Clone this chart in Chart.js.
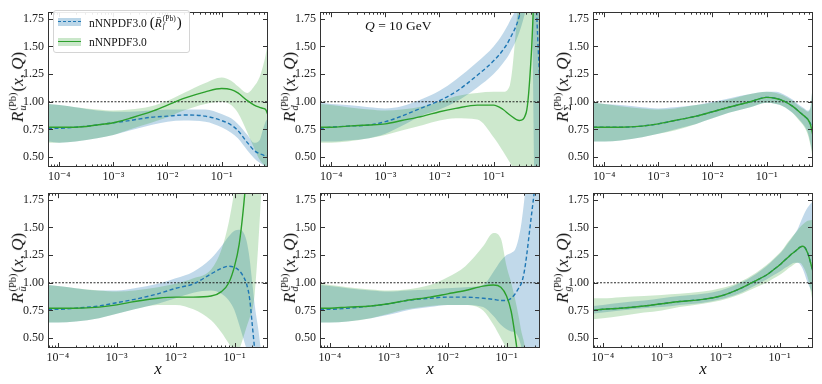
<!DOCTYPE html>
<html>
<head>
<meta charset="utf-8">
<script src="https://cdn.jsdelivr.net/npm/chart.js@4.4.1/dist/chart.umd.min.js"></script>
<style>
  body { margin: 0; background: #fff; width: 822px; height: 384px; overflow: hidden; position: relative;
         font-family: 'Liberation Serif', 'DejaVu Serif', serif; color: #111; }
  canvas { position: absolute; }
  .ylab { position: absolute; transform: translate(-50%, -50%) rotate(-90deg); font-size: 17px; white-space: nowrap; }
  .ss { display: inline-block; vertical-align: -0.3em; font-size: 10.5px; line-height: 10px; margin: 0 1px 0 1px; text-align: left; }
  .ss > span { display: block; }
  .xlab { position: absolute; font-size: 17px; font-style: italic; transform: translateX(-50%); }
  #qlab { position: absolute; left: 365px; top: 18px; font-size: 13.5px; }
  #legend { position: absolute; left: 53px; top: 10px; width: 135px; height: 41px; border: 1px solid #d4d4d4;
            border-radius: 3px; background: rgba(255,255,255,0.9); font-size: 11.5px; }
  #legend .ss { font-size: 7.5px; line-height: 7px; vertical-align: -0.25em; }
  .row { position: absolute; left: 4px; height: 20px; display: flex; align-items: center; white-space: nowrap; }
  .hb { position: relative; display: inline-block; width: 23px; height: 8px; margin-right: 8px; }
  .hb .ln { position: absolute; left: 0; right: 0; top: 3px; }
</style>
</head>
<body>
<div id="legend">
  <div class="row" style="top:1px">
    <span class="hb" style="background:rgba(31,119,180,0.3)"><span class="ln" style="border-top:1.6px dashed #1f77b4"></span></span>
    <span>nNNPDF3.0 <span style="font-size:15px">(</span><i>R̄</i><span class="ss"><span>(Pb)</span><span><i>f</i></span></span><span style="font-size:15px">)</span></span>
  </div>
  <div class="row" style="top:21px">
    <span class="hb" style="background:rgba(44,160,44,0.25)"><span class="ln" style="border-top:1.6px solid #2ca02c"></span></span>
    <span>nNNPDF3.0</span>
  </div>
</div>
<div id="qlab"><i>Q</i> = 10 GeV</div>

<script>
// x grids (top row goes to larger x than bottom row)
const xTop = [6.2e-5, 1e-4, 2e-4, 5e-4, 1e-3, 2e-3, 5e-3, 1e-2, 2e-2, 5e-2, 0.1, 0.15, 0.2, 0.3, 0.4, 0.5, 0.58, 0.65, 0.72];
const xBottom = [6.8e-5, 1e-4, 2e-4, 5e-4, 1e-3, 2e-3, 5e-3, 1e-2, 2e-2, 4e-2, 6e-2, 8e-2, 0.1, 0.12, 0.14, 0.16, 0.18, 0.2, 0.22, 0.25, 0.3, 0.37];
const yTicks = [0.5, 0.75, 1.0, 1.25, 1.5, 1.75];
const xDecades = [1e-4, 1e-3, 1e-2, 1e-1];
const unity = 1;

// R_u
const uBlueMid  = [0.76,0.76,0.77,0.79,0.81,0.83,0.86,0.87,0.88,0.87,0.83,0.79,0.74,0.63,0.56,0.53,0.52,0.51,0.51];
const uBlueHi   = [0.98,0.97,0.95,0.92,0.91,0.91,0.92,0.93,0.93,0.93,0.89,0.85,0.80,0.70,0.63,0.65,0.75,0.82,0.85];
const uBlueLo   = [0.64,0.63,0.64,0.67,0.70,0.74,0.79,0.82,0.83,0.82,0.77,0.72,0.67,0.56,0.49,0.45,0.43,0.42,0.42];
const uGreenMid = [0.77,0.77,0.77,0.79,0.81,0.85,0.91,0.97,1.03,1.09,1.12,1.11,1.08,1.01,0.97,0.95,0.94,0.93,0.88];
const uGreenHi  = [0.98,0.97,0.95,0.93,0.92,0.93,0.96,1.01,1.08,1.17,1.22,1.19,1.14,1.08,1.14,1.22,1.32,1.42,1.55];
const uGreenLo  = [0.63,0.63,0.64,0.67,0.70,0.75,0.81,0.86,0.92,0.98,1.00,0.97,0.90,0.72,0.58,0.48,0.44,0.42,0.42];

// R_d
const dBlueMid  = [0.76,0.77,0.78,0.79,0.82,0.87,0.95,1.01,1.09,1.24,1.37,1.47,1.57,1.78,2.10,2.60,2.20,1.60,1.15];
const dBlueHi   = [0.99,0.98,0.97,0.95,0.94,0.96,1.03,1.10,1.20,1.36,1.50,1.62,1.73,1.95,2.40,3.00,3.00,3.00,3.00];
const dBlueLo   = [0.64,0.64,0.65,0.67,0.71,0.78,0.88,0.93,1.00,1.13,1.25,1.35,1.44,1.63,1.85,2.10,0.10,0.10,0.10];
const dGreenMid = [0.77,0.77,0.78,0.79,0.80,0.83,0.87,0.91,0.94,0.97,0.97,0.93,0.88,0.83,0.90,1.45,2.20,2.80,3.20];
const dGreenHi  = [0.98,0.97,0.95,0.93,0.92,0.93,0.96,1.00,1.05,1.08,1.09,1.09,1.15,2.00,2.50,3.00,3.00,3.00,3.00];
const dGreenLo  = [0.63,0.63,0.64,0.67,0.70,0.74,0.79,0.83,0.85,0.84,0.68,0.55,0.45,0.30,0.10,0.10,0.10,0.10,0.10];

// R_Sigma
const sBlueMid  = [0.77,0.77,0.77,0.78,0.80,0.83,0.87,0.91,0.95,1.00,1.04,1.03,1.01,0.96,0.91,0.87,0.84,0.80,0.76];
const sBlueHi   = [0.99,0.98,0.97,0.95,0.94,0.95,0.97,1.00,1.03,1.07,1.09,1.09,1.07,1.02,0.97,0.94,0.92,0.96,1.18];
const sBlueLo   = [0.64,0.64,0.65,0.68,0.71,0.75,0.80,0.85,0.90,0.95,0.99,0.98,0.96,0.90,0.84,0.78,0.72,0.62,0.50];
const sGreenMid = [0.77,0.77,0.77,0.78,0.80,0.83,0.87,0.91,0.95,1.00,1.04,1.03,1.01,0.96,0.91,0.87,0.84,0.79,0.69];
const sGreenHi  = [0.99,0.98,0.96,0.94,0.93,0.94,0.97,0.99,1.02,1.07,1.09,1.08,1.06,1.01,0.96,0.93,0.91,0.95,1.20];
const sGreenLo  = [0.64,0.64,0.65,0.68,0.71,0.74,0.80,0.85,0.90,0.95,0.99,0.98,0.96,0.90,0.83,0.77,0.70,0.60,0.47];

// R_ubar
const ubBlueMid  = [0.76,0.76,0.77,0.79,0.82,0.85,0.90,0.95,0.99,1.08,1.13,1.15,1.14,1.11,1.06,0.99,0.86,0.62,0.40,0.20,0.10,0.10];
const ubBlueHi   = [0.98,0.97,0.95,0.93,0.93,0.95,0.99,1.04,1.10,1.22,1.33,1.42,1.47,1.48,1.46,1.38,1.22,1.00,0.80,0.60,0.30,0.20];
const ubBlueLo   = [0.64,0.64,0.65,0.68,0.72,0.76,0.81,0.86,0.91,0.93,0.90,0.84,0.75,0.62,0.50,0.40,0.30,0.20,0.10,0.10,0.10,0.10];
const ubGreenMid = [0.77,0.77,0.77,0.78,0.80,0.83,0.86,0.87,0.87,0.88,0.92,1.00,1.15,1.35,1.65,2.00,2.40,2.80,3.00,3.00,3.00,3.00];
const ubGreenHi  = [0.98,0.97,0.95,0.93,0.92,0.93,0.96,0.99,1.04,1.12,1.30,1.55,1.85,2.20,2.60,3.00,3.00,3.00,3.00,3.00,3.00,3.00];
const ubGreenLo  = [0.64,0.64,0.65,0.68,0.72,0.76,0.80,0.80,0.76,0.66,0.55,0.45,0.38,0.40,0.50,0.60,0.68,0.75,0.90,1.30,2.00,2.50];

// R_dbar
const dbBlueMid  = [0.76,0.76,0.77,0.79,0.81,0.84,0.86,0.87,0.87,0.86,0.85,0.84,0.84,0.86,0.90,0.95,1.00,1.10,1.25,1.50,1.85,2.30];
const dbBlueHi   = [0.98,0.97,0.95,0.93,0.92,0.93,0.94,0.95,0.96,0.98,1.10,1.20,1.25,1.27,1.30,1.40,1.55,1.75,2.00,2.50,3.00,3.00];
const dbBlueLo   = [0.64,0.64,0.65,0.68,0.71,0.75,0.78,0.80,0.80,0.78,0.70,0.62,0.58,0.56,0.55,0.50,0.40,0.20,0.10,0.10,0.10,0.10];
const dbGreenMid = [0.77,0.77,0.78,0.79,0.81,0.84,0.87,0.90,0.93,0.97,0.98,0.96,0.88,0.74,0.52,0.30,0.15,0.10,0.10,0.10,0.10,0.10];
const dbGreenHi  = [0.99,0.98,0.96,0.94,0.93,0.94,0.98,1.05,1.15,1.33,1.45,1.40,1.15,1.00,0.85,0.70,0.55,0.45,0.30,0.10,0.10,0.10];
const dbGreenLo  = [0.64,0.64,0.65,0.68,0.72,0.76,0.79,0.80,0.80,0.75,0.62,0.50,0.40,0.30,0.20,0.10,0.10,0.10,0.10,0.10,0.10,0.10];

// R_g
const gBlueMid  = [0.75,0.76,0.77,0.79,0.81,0.83,0.85,0.88,0.94,1.02,1.07,1.12,1.16,1.20,1.23,1.26,1.28,1.30,1.32,1.33,1.27,1.10];
const gBlueHi   = [0.79,0.80,0.82,0.84,0.86,0.88,0.90,0.93,0.99,1.08,1.15,1.21,1.26,1.31,1.36,1.40,1.44,1.48,1.53,1.60,1.68,1.74];
const gBlueLo   = [0.72,0.73,0.75,0.77,0.78,0.80,0.82,0.85,0.90,0.98,1.03,1.07,1.10,1.13,1.15,1.17,1.18,1.18,1.17,1.12,1.00,0.90];
const gGreenMid = [0.75,0.76,0.77,0.79,0.81,0.83,0.85,0.88,0.94,1.02,1.07,1.12,1.16,1.20,1.23,1.26,1.28,1.30,1.32,1.33,1.27,1.10];
const gGreenHi  = [0.86,0.86,0.87,0.88,0.89,0.90,0.92,0.95,1.00,1.09,1.16,1.22,1.27,1.32,1.37,1.41,1.44,1.47,1.50,1.53,1.56,1.57];
const gGreenLo  = [0.67,0.68,0.70,0.73,0.75,0.78,0.81,0.84,0.89,0.96,1.00,1.04,1.07,1.10,1.13,1.15,1.17,1.18,1.18,1.15,1.05,0.82];

const BLUE = '#1f77b4', GREEN = '#2ca02c';
const FONT = "'Liberation Serif', 'DejaVu Serif', serif";
const PW = 220, PH = 160, AXW = 40, AXH = 22, PADT = 6, PADR = 6;

const panels = [
  { xs: xTop, xmin: 6.2e-5, xmax: 0.72, left: 48, top: 7, sub: 'u',
    blue: [uBlueLo, uBlueMid, uBlueHi], green: [uGreenLo, uGreenMid, uGreenHi] },
  { xs: xTop, xmin: 6.2e-5, xmax: 0.72, left: 320, top: 7, sub: 'd',
    blue: [dBlueLo, dBlueMid, dBlueHi], green: [dGreenLo, dGreenMid, dGreenHi] },
  { xs: xTop, xmin: 6.2e-5, xmax: 0.72, left: 593, top: 7, sub: 'Σ', upright: true,
    blue: [sBlueLo, sBlueMid, sBlueHi], green: [sGreenLo, sGreenMid, sGreenHi] },
  { xs: xBottom, xmin: 6.8e-5, xmax: 0.37, left: 48, top: 188, sub: 'ū',
    blue: [ubBlueLo, ubBlueMid, ubBlueHi], green: [ubGreenLo, ubGreenMid, ubGreenHi] },
  { xs: xBottom, xmin: 6.8e-5, xmax: 0.37, left: 320, top: 188, sub: 'd̄',
    blue: [dbBlueLo, dbBlueMid, dbBlueHi], green: [dbGreenLo, dbGreenMid, dbGreenHi] },
  { xs: xBottom, xmin: 6.8e-5, xmax: 0.37, left: 593, top: 188, sub: 'g',
    blue: [gBlueLo, gBlueMid, gBlueHi], green: [gGreenLo, gGreenMid, gGreenHi] }
];

const SUP = { '-': '⁻', '0': '⁰', '1': '¹', '2': '²', '3': '³', '4': '⁴', '5': '⁵', '6': '⁶', '7': '⁷', '8': '⁸', '9': '⁹' };
function decadeLabel(v) {
  const e = String(Math.round(Math.log10(v)));
  return '10' + e.split('').map(c => SUP[c]).join('');
}
const pts = (xs, ys) => xs.map((x, i) => ({ x: x, y: ys[i] }));

// inward ticks on all four sides + frame, like the matplotlib original
const framePlugin = {
  id: 'frame',
  afterDatasetsDraw(chart) {
    const { ctx, chartArea: a, scales: { x, y } } = chart;
    ctx.save();
    ctx.strokeStyle = '#333';
    ctx.lineWidth = 1;
    ctx.beginPath();
    const lo = Math.floor(Math.log10(x.min)), hi = Math.ceil(Math.log10(x.max));
    for (let e = lo; e <= hi; e++) {
      for (let k = 1; k < 10; k++) {
        const v = k * Math.pow(10, e);
        if (v < x.min || v > x.max) continue;
        const px = Math.round(x.getPixelForValue(v)) + 0.5;
        const len = k === 1 ? 5 : 2.5;
        ctx.moveTo(px, a.bottom); ctx.lineTo(px, a.bottom - len);
        ctx.moveTo(px, a.top); ctx.lineTo(px, a.top + len);
      }
    }
    yTicks.forEach(v => {
      const py = Math.round(y.getPixelForValue(v)) + 0.5;
      ctx.moveTo(a.left, py); ctx.lineTo(a.left + 5, py);
      ctx.moveTo(a.right, py); ctx.lineTo(a.right - 5, py);
    });
    ctx.stroke();
    ctx.strokeRect(Math.round(a.left) + 0.5, Math.round(a.top) + 0.5, Math.round(a.width) - 1, Math.round(a.height) - 1);
    ctx.restore();
  }
};

function makePanel(p) {
  const cv = document.createElement('canvas');
  cv.width = AXW + PW + PADR;
  cv.height = PADT + PH + AXH;
  cv.style.left = (p.left - AXW) + 'px';
  cv.style.top = (p.top - PADT) + 'px';
  document.body.appendChild(cv);

  const band = (hi, lo, col, alpha, order) => [
    { data: pts(p.xs, hi), borderWidth: 0, pointRadius: 0, fill: '+1', backgroundColor: col.replace('A', alpha), order: order },
    { data: pts(p.xs, lo), borderWidth: 0, pointRadius: 0, fill: false, order: order }
  ];

  new Chart(cv, {
    type: 'line',
    data: {
      datasets: [
        ...band(p.blue[2], p.blue[0], 'rgba(31,119,180,A)', 0.28, 6),
        ...band(p.green[2], p.green[0], 'rgba(44,160,44,A)', 0.24, 5),
        { data: [{ x: p.xmin, y: unity }, { x: p.xmax, y: unity }], borderColor: '#111', borderWidth: 0.9,
          borderDash: [2, 1.5], pointRadius: 0, fill: false, order: 3 },
        { data: pts(p.xs, p.blue[1]), borderColor: BLUE, borderWidth: 1.4, borderDash: [4, 2.5],
          pointRadius: 0, fill: false, order: 2 },
        { data: pts(p.xs, p.green[1]), borderColor: GREEN, borderWidth: 1.4, pointRadius: 0, fill: false, order: 1 }
      ]
    },
    options: {
      responsive: false,
      animation: false,
      devicePixelRatio: 1,
      cubicInterpolationMode: 'monotone',
      layout: { padding: { top: PADT, right: PADR, left: 0, bottom: 0 } },
      plugins: { legend: { display: false }, tooltip: { enabled: false } },
      scales: {
        x: {
          type: 'logarithmic', min: p.xmin, max: p.xmax,
          grid: { display: false, drawTicks: false }, border: { display: false },
          afterBuildTicks: s => { s.ticks = xDecades.map(v => ({ value: v })); },
          afterFit: s => { s.height = AXH; },
          ticks: { autoSkip: false, maxRotation: 0, padding: 3, color: '#222',
                   font: { family: FONT, size: 12 }, callback: v => decadeLabel(v) }
        },
        y: {
          min: 0.41, max: 1.81,
          grid: { display: false, drawTicks: false }, border: { display: false },
          afterBuildTicks: s => { s.ticks = yTicks.map(v => ({ value: v })); },
          afterFit: s => { s.width = AXW; },
          ticks: { padding: 4, color: '#222', font: { family: FONT, size: 12 }, callback: v => Number(v).toFixed(2) }
        }
      }
    },
    plugins: [framePlugin]
  });

  // axis title with stacked super/subscript
  const yl = document.createElement('div');
  yl.className = 'ylab';
  const sub = p.upright ? p.sub : '<i>' + p.sub + '</i>';
  yl.innerHTML = '<i>R</i><span class="ss"><span>(Pb)</span><span>' + sub + '</span></span>(<i>x</i>, <i>Q</i>)';
  yl.style.left = (p.left - 30) + 'px';
  yl.style.top = (p.top + PH / 2) + 'px';
  document.body.appendChild(yl);

  if (p.top > 100) {
    const xl = document.createElement('div');
    xl.className = 'xlab';
    xl.textContent = 'x';
    xl.style.left = (p.left + PW / 2) + 'px';
    xl.style.top = '359px';
    document.body.appendChild(xl);
  }
}

panels.forEach(makePanel);
// keep the legend and annotation above the canvases
document.body.appendChild(document.getElementById('legend'));
document.body.appendChild(document.getElementById('qlab'));
</script>
</body>
</html>
